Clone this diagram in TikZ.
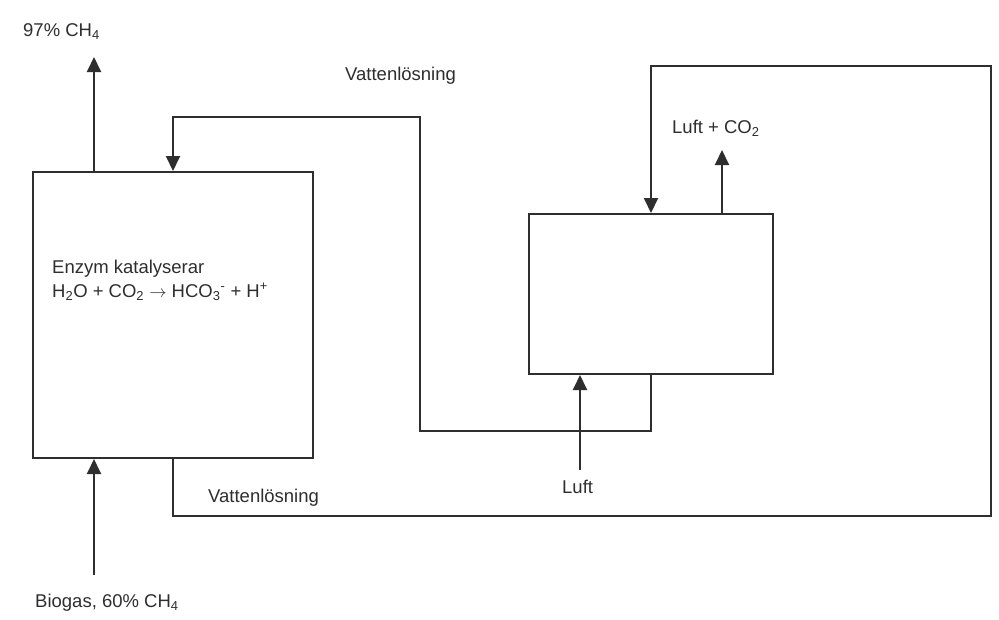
\documentclass[tikz,border=0pt]{standalone}
\usepackage{fontspec}
\setmainfont{Liberation Sans}
\usetikzlibrary{arrows.meta}
\definecolor{ink}{HTML}{2E2E2E}
\begin{document}
\begin{tikzpicture}[x=1pt,y=-1pt]
\tikzset{
  box/.style={draw=ink, line width=2pt, fill=white, inner sep=0pt},
  flow/.style={draw=ink, line width=2pt},
  arr/.style={flow, -{Triangle[width=14pt,length=15pt]}},
  lbl/.style={font=\fontsize{18.5}{22}\selectfont, text=ink, inner sep=0pt, anchor=west},
}
\useasboundingbox[fill=white] (0,0) rectangle (999,619);

% vessels
\node[box, minimum width=280pt, minimum height=286pt] (L) at (173,315) {};
\node[box, minimum width=244pt, minimum height=160pt] (R) at (651,294) {};

% free ends
\coordinate (topout) at (94,57);
\coordinate (bioin) at (94,575);
\coordinate (luftin) at (580,470);
\coordinate (luftout) at (722,150);

% streams
\draw[arr] (L.north -| topout) -- (topout);
\draw[arr] (bioin) -- (bioin |- L.south);
\draw[arr] (luftin) -- (luftin |- R.south);
\draw[arr] (luftout |- R.north) -- (luftout);
\draw[arr] (R.south) -- ++(0,56) -| (420,117) -| (L.north);
\draw[arr] (L.south) -- ++(0,57) -| (991,66) -| (R.north);

% labels
\node[lbl] (t1) at (23,32) {97\% CH\textsubscript{4}};
\node[lbl] (t2) at (345,76) {Vattenlösning};
\node[lbl] (t3) at (672,128) {Luft + CO\textsubscript{2}};
\node[lbl] (t4) at (52,269) {Enzym katalyserar};
\node[lbl] (t5) at (52,292) {H\textsubscript{2}O + CO\textsubscript{2} $\rightarrow$ HCO\textsubscript{3}\textsuperscript{-} + H\textsuperscript{+}};
\node[lbl] (t6) at (562,487) {Luft};
\node[lbl] (t7) at (208,498) {Vattenlösning};
\node[lbl] (t8) at (35,603) {Biogas, 60\% CH\textsubscript{4}};
\end{tikzpicture}
\end{document}
